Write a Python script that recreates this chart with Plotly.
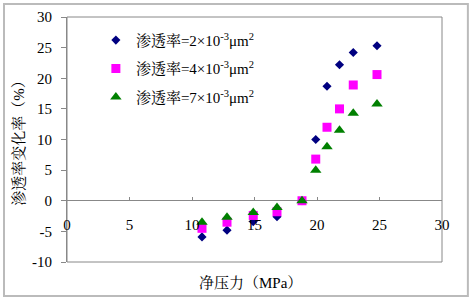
import plotly.graph_objects as go

x_vals = [10.8, 12.8, 14.9, 16.8, 18.8, 19.9, 20.8, 21.8, 22.9, 24.8]
k2_vals = [-5.9, -4.8, -3.4, -2.6, 0.0, 10.0, 18.7, 22.2, 24.2, 25.3]
k4_vals = [-4.5, -3.5, -2.4, -1.8, 0.0, 6.8, 12.0, 15.0, 18.9, 20.6]
k7_vals = [-3.5, -2.7, -1.9, -1.1, 0.0, 5.0, 8.8, 11.5, 14.3, 15.8]
names = ["渗透率=2×10<sup>-3</sup>μm<sup>2</sup>",
         "渗透率=4×10<sup>-3</sup>μm<sup>2</sup>",
         "渗透率=7×10<sup>-3</sup>μm<sup>2</sup>"]
x_ticks = [0, 5, 10, 15, 20, 25, 30]
y_ticks = [-10, -5, 0, 5, 10, 15, 20, 25, 30]
x_title = "净压力（MPa）"
y_title = "渗透率变化率（%）"

FONT = "Liberation Serif, Times New Roman, Noto Serif CJK SC, Noto Sans CJK SC, serif"

fig = go.Figure()
fig.add_trace(go.Scatter(x=x_vals, y=k2_vals, mode="markers", name=names[0], legendgroup="a",
                         marker=dict(symbol="diamond", size=7, color="#000080")))
fig.add_trace(go.Scatter(x=x_vals, y=k4_vals, mode="markers", name=names[1], legendgroup="b",
                         marker=dict(symbol="square", size=9, color="#FF00FF")))
fig.add_trace(go.Scatter(x=x_vals, y=k7_vals, mode="markers", name=names[2], legendgroup="c",
                         marker=dict(symbol="triangle-up", size=10, color="#008000")))

fig.update_layout(
    width=472, height=300,
    margin=dict(l=67, r=30, t=17, b=38, autoexpand=False),
    paper_bgcolor="white", plot_bgcolor="white",
    font=dict(family=FONT, size=15, color="black"),
    showlegend=True,
    legend=dict(x=0.077, y=0.972, xanchor="left", yanchor="top", bgcolor="rgba(0,0,0,0)",
                font=dict(size=15), traceorder="grouped", tracegroupgap=6,
                itemwidth=30),
    xaxis=dict(range=[0, 30], tickvals=x_ticks, ticktext=[str(v) for v in x_ticks],
               showgrid=False, showline=False, zeroline=False, automargin=False,
               anchor="free", position=0.25, ticks="inside", ticklen=4,
               tickcolor="#888888", ticklabelstandoff=13),
    yaxis=dict(range=[-10, 30], tickvals=y_ticks, ticktext=[str(v) for v in y_ticks],
               showgrid=False, showline=True, linecolor="#888888", linewidth=1,
               zeroline=True, zerolinecolor="#888888", zerolinewidth=1, automargin=False,
               ticks="outside", ticklen=5, tickcolor="#888888", ticklabelstandoff=6),
    annotations=[
        dict(text=x_title, xref="paper", yref="paper", x=0.49, y=-0.085,
             xanchor="center", yanchor="middle", showarrow=False, font=dict(size=15)),
        dict(text=y_title, xref="paper", yref="paper", x=-0.13, y=0.5,
             xanchor="center", yanchor="middle", textangle=-90, showarrow=False,
             font=dict(size=15)),
    ],
    shapes=[
        dict(type="rect", xref="paper", yref="paper", x0=0, y0=0, x1=1, y1=1,
             line=dict(color="#888888", width=1), layer="below"),
        dict(type="rect", xref="paper", yref="paper", x0=-0.168, y0=-0.139, x1=1.069, y1=1.053,
             line=dict(color="#BBBBBB", width=2), layer="below"),
    ],
)

fig.write_html("out.html", config={"displayModeBar": False},
               post_script="document.body.style.margin='0';document.body.style.overflow='hidden';")
